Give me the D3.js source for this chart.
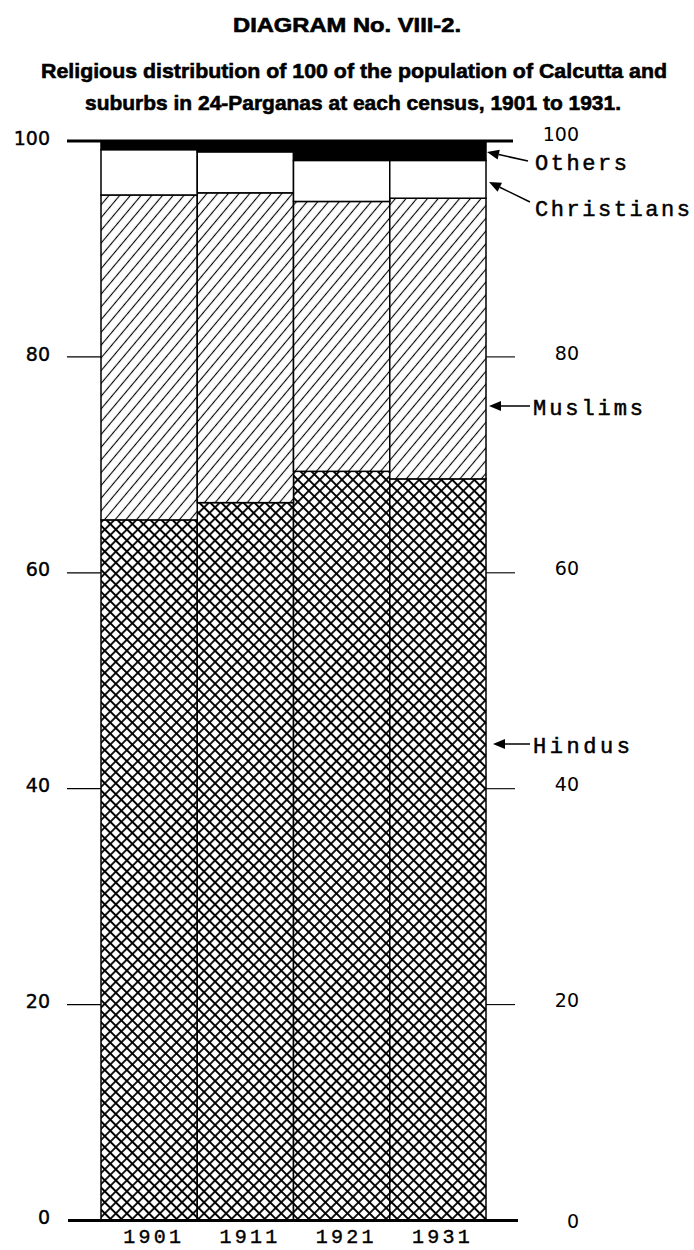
<!DOCTYPE html>
<html>
<head>
<meta charset="utf-8">
<script src="https://cdn.jsdelivr.net/npm/d3@7"></script>
<style>
  html, body { margin: 0; padding: 0; background: #fff; }
  svg { display: block; }
</style>
</head>
<body>
<script>
// Census years and share of every 100 persons by religion
const years = ["1901", "1911", "1921", "1931"];
const hindus     = [64.9, 66.5, 69.4, 68.7];
const muslims    = [30.1, 28.7, 25.0, 26.0];
const christians = [4.2, 3.8, 3.8, 3.5];
const others     = [0.8, 1.0, 1.8, 1.8];
const religions = ["Hindus", "Muslims", "Christians", "Others"];
const yTicks = [0, 20, 40, 60, 80, 100];

const W = 694, H = 1250;
const svg = d3.select("body").append("svg").attr("width", W).attr("height", H);

// Fill patterns
const defs = svg.append("defs");
const cs = 7.8;
const cross = defs.append("pattern")
  .attr("id", "cross").attr("patternUnits", "userSpaceOnUse")
  .attr("width", cs).attr("height", cs)
  .attr("patternTransform", "rotate(45)");
cross.append("rect").attr("width", cs).attr("height", cs).attr("fill", "#fff");
cross.append("path").attr("d", `M${cs / 2},0V${cs}M0,${cs / 2}H${cs}`)
  .attr("stroke", "#000").attr("stroke-width", 1.8).attr("fill", "none");

const ds = 8.2;
const diag = defs.append("pattern")
  .attr("id", "diag").attr("patternUnits", "userSpaceOnUse")
  .attr("width", ds).attr("height", ds)
  .attr("patternTransform", "rotate(40)");
diag.append("rect").attr("width", ds).attr("height", ds).attr("fill", "#fff");
diag.append("path").attr("d", `M${ds / 2},0V${ds}`)
  .attr("stroke", "#000").attr("stroke-width", 1.1).attr("fill", "none");

const fills = { Hindus: "url(#cross)", Muslims: "url(#diag)", Christians: "#fff", Others: "#000" };

// Scales
const x = d3.scaleBand().domain(years).range([101, 486]).padding(0);
const y = d3.scaleLinear().domain([0, 100]).range([1220.5, 141]);

// Title (condensed bold lettering)
const title = svg.append("g").attr("font-family", "'Liberation Sans Narrow', 'Liberation Sans', Arial, sans-serif")
  .attr("font-weight", "bold").attr("fill", "#000").attr("text-anchor", "middle")
  .attr("stroke", "#000").attr("stroke-width", 0.6);
title.append("text").attr("x", 347).attr("y", 32).attr("font-size", 19.5)
  .attr("textLength", 228).attr("lengthAdjust", "spacingAndGlyphs")
  .text("DIAGRAM No. VIII-2.");
title.append("text").attr("x", 354).attr("y", 78).attr("font-size", 21)
  .attr("textLength", 626).attr("lengthAdjust", "spacingAndGlyphs")
  .text("Religious distribution of 100 of the population of Calcutta and");
title.append("text").attr("x", 353).attr("y", 110).attr("font-size", 21)
  .attr("textLength", 536).attr("lengthAdjust", "spacingAndGlyphs")
  .text("suburbs in 24-Parganas at each census, 1901 to 1931.");

// Stacked data
const rows = years.map((yr, i) => ({
  year: yr, Hindus: hindus[i], Muslims: muslims[i], Christians: christians[i], Others: others[i]
}));
const series = d3.stack().keys(religions)(rows);

const bars = svg.append("g");
series.forEach(s => {
  bars.selectAll(null).data(s).enter().append("rect")
    .attr("x", d => x(d.data.year))
    .attr("width", x.bandwidth())
    .attr("y", d => y(d[1]))
    .attr("height", d => y(d[0]) - y(d[1]))
    .attr("fill", fills[s.key])
    .attr("stroke", "#000")
    .attr("stroke-width", 1.5);
});

// Frame lines at 100 and 0
svg.append("line").attr("x1", 67).attr("x2", 513).attr("y1", y(100)).attr("y2", y(100))
  .attr("stroke", "#000").attr("stroke-width", 3.2);
svg.append("line").attr("x1", 68).attr("x2", 518).attr("y1", y(0)).attr("y2", y(0))
  .attr("stroke", "#000").attr("stroke-width", 3);

// Left axis: ticks and labels
const inner = yTicks.filter(t => t > 0 && t < 100);
svg.append("g").selectAll("line").data(inner).enter().append("line")
  .attr("x1", 67).attr("x2", 101).attr("y1", d => y(d)).attr("y2", d => y(d))
  .attr("stroke", "#000").attr("stroke-width", 1.3);
svg.append("g").selectAll("text").data(yTicks).enter().append("text")
  .attr("x", 50).attr("y", d => y(d) - 3).attr("dy", "0.35em")
  .attr("text-anchor", "end")
  .attr("font-family", "'DejaVu Sans', 'Liberation Sans', sans-serif")
  .attr("font-size", 19).attr("fill", "#000")
  .attr("stroke", "#000").attr("stroke-width", 0.4)
  .text(d => d);

// Right axis: ticks and labels
svg.append("g").selectAll("line").data(inner).enter().append("line")
  .attr("x1", 486).attr("x2", 515).attr("y1", d => y(d)).attr("y2", d => y(d))
  .attr("stroke", "#000").attr("stroke-width", 1.1);
svg.append("g").selectAll("text").data(yTicks).enter().append("text")
  .attr("x", 579)
  .attr("y", d => d === 100 ? y(d) - 7 : (d === 0 ? y(d) + 1 : y(d) - 4))
  .attr("dy", "0.35em")
  .attr("text-anchor", "end")
  .attr("font-family", "'DejaVu Sans', 'Liberation Sans', sans-serif")
  .attr("font-size", 19).attr("fill", "#000")
  .text(d => d);

// Year labels
svg.append("g").selectAll("text").data(years).enter().append("text")
  .attr("x", d => x(d) + x.bandwidth() / 2 + 3)
  .attr("y", 1243)
  .attr("text-anchor", "middle")
  .attr("font-family", "'Liberation Mono', 'Courier New', monospace")
  .attr("font-size", 20).attr("fill", "#000")
  .attr("stroke", "#000").attr("stroke-width", 0.4)
  .attr("textLength", 58).attr("lengthAdjust", "spacing")
  .text(d => d);

// Series labels with arrows
const labels = [
  { text: "Others",     tx: 535, ty: 162, len: 92,  from: [528, 161], to: [487, 152] },
  { text: "Christians", tx: 535, ty: 208, len: 155, from: [530, 202], to: [489, 182] },
  { text: "Muslims",    tx: 533, ty: 407, len: 110, from: [530, 406], to: [489, 406] },
  { text: "Hindus",     tx: 533, ty: 745, len: 97,  from: [530, 744], to: [493, 744] }
];
const lab = svg.append("g");
labels.forEach(l => {
  lab.append("text").attr("x", l.tx).attr("y", l.ty).attr("dy", "0.35em")
    .attr("font-family", "'Liberation Mono', 'Courier New', monospace")
    .attr("font-size", 22).attr("fill", "#000")
    .attr("stroke", "#000").attr("stroke-width", 0.5)
    .attr("textLength", l.len).attr("lengthAdjust", "spacing")
    .text(l.text);
  const [x1, y1] = l.from, [x2, y2] = l.to;
  const ang = Math.atan2(y2 - y1, x2 - x1);
  const hl = 12, hw = 5;
  const bx = x2 - hl * Math.cos(ang), by = y2 - hl * Math.sin(ang);
  lab.append("line").attr("x1", x1).attr("y1", y1).attr("x2", bx).attr("y2", by)
    .attr("stroke", "#000").attr("stroke-width", 1.5);
  lab.append("path")
    .attr("d", `M${x2},${y2}L${bx + hw * Math.sin(ang)},${by - hw * Math.cos(ang)}L${bx - hw * Math.sin(ang)},${by + hw * Math.cos(ang)}Z`)
    .attr("fill", "#000");
});
</script>
</body>
</html>
